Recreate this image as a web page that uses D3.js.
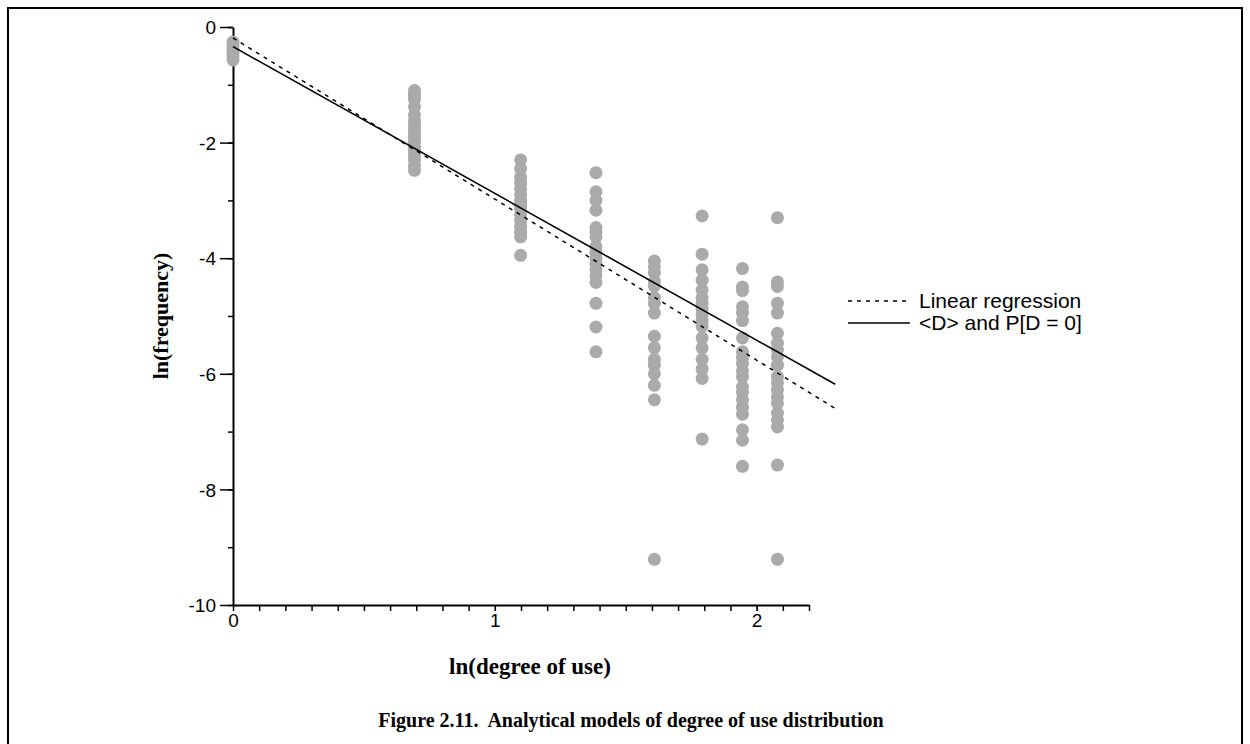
<!DOCTYPE html>
<html>
<head>
<meta charset="utf-8">
<script src="https://cdn.jsdelivr.net/npm/d3@7"></script>
<style>
  body { margin: 0; background: #fff; }
  svg { display: block; }
  .tick text { font-family: "Liberation Sans", Arial, sans-serif; font-size: 19px; fill: #000; }
</style>
</head>
<body>
<svg id="svg" width="1250" height="744"></svg>
<script>
// x positions are ln(degree of use) for degree 1..8
var degrees = [1, 2, 3, 4, 5, 6, 7, 8];

// ln(frequency) values read per degree
var freq1 = [-0.26, -0.32, -0.38, -0.44, -0.50, -0.57];
var freq2 = [-1.10, -1.18, -1.25, -1.38, -1.52, -1.62, -1.70, -1.79, -1.86, -1.92, -2.00, -2.08, -2.15, -2.22, -2.30, -2.40, -2.48];
var freq3 = [-2.30, -2.45, -2.60, -2.70, -2.80, -2.90, -3.00, -3.08, -3.15, -3.25, -3.35, -3.45, -3.55, -3.63, -3.95];
var freq4 = [-2.52, -2.85, -3.00, -3.17, -3.47, -3.55, -3.63, -3.80, -3.90, -4.00, -4.10, -4.20, -4.30, -4.42, -4.78, -5.19, -5.62];
var freq5 = [-4.05, -4.15, -4.25, -4.40, -4.48, -4.68, -4.78, -4.95, -5.35, -5.55, -5.75, -5.85, -6.00, -6.20, -6.45, -9.21];
var freq6 = [-3.27, -3.93, -4.20, -4.38, -4.55, -4.68, -4.78, -4.88, -4.98, -5.08, -5.18, -5.38, -5.55, -5.75, -5.92, -6.08, -7.13];
var freq7 = [-4.18, -4.50, -4.56, -4.84, -4.95, -5.08, -5.38, -5.62, -5.72, -5.82, -5.95, -6.05, -6.23, -6.32, -6.45, -6.58, -6.70, -6.97, -7.15, -7.60];
var freq8 = [-3.30, -4.41, -4.49, -4.78, -4.95, -5.30, -5.47, -5.59, -5.71, -5.85, -6.05, -6.16, -6.28, -6.40, -6.51, -6.68, -6.80, -6.92, -7.58, -9.21];

// fitted lines: [x, y] end points
var regression = [[0, -0.19], [2.3, -6.60]];
var modelFit = [[0, -0.34], [2.3, -6.18]];

var xTicks = [0, 1, 2];
var yTicks = [0, -2, -4, -6, -8, -10];

var svg = d3.select("#svg");

// frame
svg.append("rect")
  .attr("x", 8).attr("y", 8)
  .attr("width", 1234).attr("height", 760)
  .attr("fill", "none").attr("stroke", "#000").attr("stroke-width", 2);

var xScale = d3.scaleLinear().domain([0, 2.2]).range([233, 809]);
var yScale = d3.scaleLinear().domain([-10, 0]).range([605, 27]);

// y axis: major ticks labelled, minor ticks between
var yAxisG = svg.append("g").attr("transform", "translate(233,0)");
yAxisG.call(d3.axisLeft(yScale).tickValues(d3.range(0, -11, -1)).tickSize(5).tickSizeOuter(0).tickFormat(""));
yAxisG.selectAll(".tick line").attr("stroke-width", 1.5);
yAxisG.select(".domain").attr("stroke-width", 2);
var yMajor = svg.append("g").attr("transform", "translate(233,0)");
yMajor.call(d3.axisLeft(yScale).tickValues(yTicks).tickSize(13).tickSizeOuter(0).tickPadding(4)
  .tickFormat(function (d) { return String(d); }));
yMajor.select(".domain").remove();
yMajor.selectAll(".tick line").attr("stroke-width", 1.5);
yMajor.selectAll(".tick text").attr("dy", "0.35em");

// x axis
var xAxisG = svg.append("g").attr("transform", "translate(0,605)");
xAxisG.call(d3.axisBottom(xScale).tickValues(d3.range(0, 23).map(function (i) { return i / 10; })).tickSize(6).tickSizeOuter(0).tickFormat(""));
xAxisG.selectAll(".tick line").attr("stroke-width", 1.5);
xAxisG.select(".domain").attr("stroke-width", 2);
var xMajor = svg.append("g").attr("transform", "translate(0,605)");
xMajor.call(d3.axisBottom(xScale).tickValues(xTicks).tickSize(6).tickSizeOuter(0).tickPadding(3)
  .tickFormat(function (d) { return String(d); }));
xMajor.select(".domain").remove();

// points
var columns = [freq1, freq2, freq3, freq4, freq5, freq6, freq7, freq8];
var points = [];
columns.forEach(function (col, i) {
  col.forEach(function (v) { points.push([Math.log(degrees[i]), v]); });
});
svg.append("g").selectAll("circle")
  .data(points)
  .enter()
  .append("circle")
  .attr("cx", function (d) { return xScale(d[0]); })
  .attr("cy", function (d) { return yScale(d[1]); })
  .attr("r", 6.5)
  .attr("fill", "#aaaaaa");

// lines
var line = d3.line()
  .x(function (d) { return xScale(d[0]); })
  .y(function (d) { return yScale(d[1]); });

svg.append("path")
  .attr("d", line(regression))
  .attr("fill", "none").attr("stroke", "#000")
  .attr("stroke-width", 1.5).attr("stroke-dasharray", "4,5");

svg.append("path")
  .attr("d", line(modelFit))
  .attr("fill", "none").attr("stroke", "#000")
  .attr("stroke-width", 1.6);

// legend
var legend = [
  { label: "Linear regression", dash: "4,5" },
  { label: "<D> and P[D = 0]", dash: null }
];
var lg = svg.append("g").attr("transform", "translate(848,301)");
legend.forEach(function (d, i) {
  lg.append("line")
    .attr("x1", 0).attr("x2", 62)
    .attr("y1", i * 22).attr("y2", i * 22)
    .attr("stroke", "#000").attr("stroke-width", 1.5)
    .attr("stroke-dasharray", d.dash);
  lg.append("text")
    .attr("x", 71).attr("y", i * 22)
    .attr("dy", "0.35em")
    .style("font-family", "'Liberation Sans', Arial, sans-serif")
    .style("font-size", "21px")
    .text(d.label);
});

// axis titles
svg.append("text")
  .attr("transform", "translate(168,316) rotate(-90)")
  .attr("text-anchor", "middle")
  .style("font-family", "'Liberation Serif', 'Times New Roman', serif")
  .style("font-weight", "bold")
  .style("font-size", "22px")
  .text("ln(frequency)");

svg.append("text")
  .attr("x", 530).attr("y", 674)
  .attr("text-anchor", "middle")
  .style("font-family", "'Liberation Serif', 'Times New Roman', serif")
  .style("font-weight", "bold")
  .style("font-size", "23px")
  .text("ln(degree of use)");

svg.append("text")
  .attr("x", 631).attr("y", 727)
  .attr("text-anchor", "middle")
  .style("font-family", "'Liberation Serif', 'Times New Roman', serif")
  .style("font-weight", "bold")
  .style("font-size", "20px")
  .style("white-space", "pre")
  .text("Figure 2.11.  Analytical models of degree of use distribution");
</script>
</body>
</html>
